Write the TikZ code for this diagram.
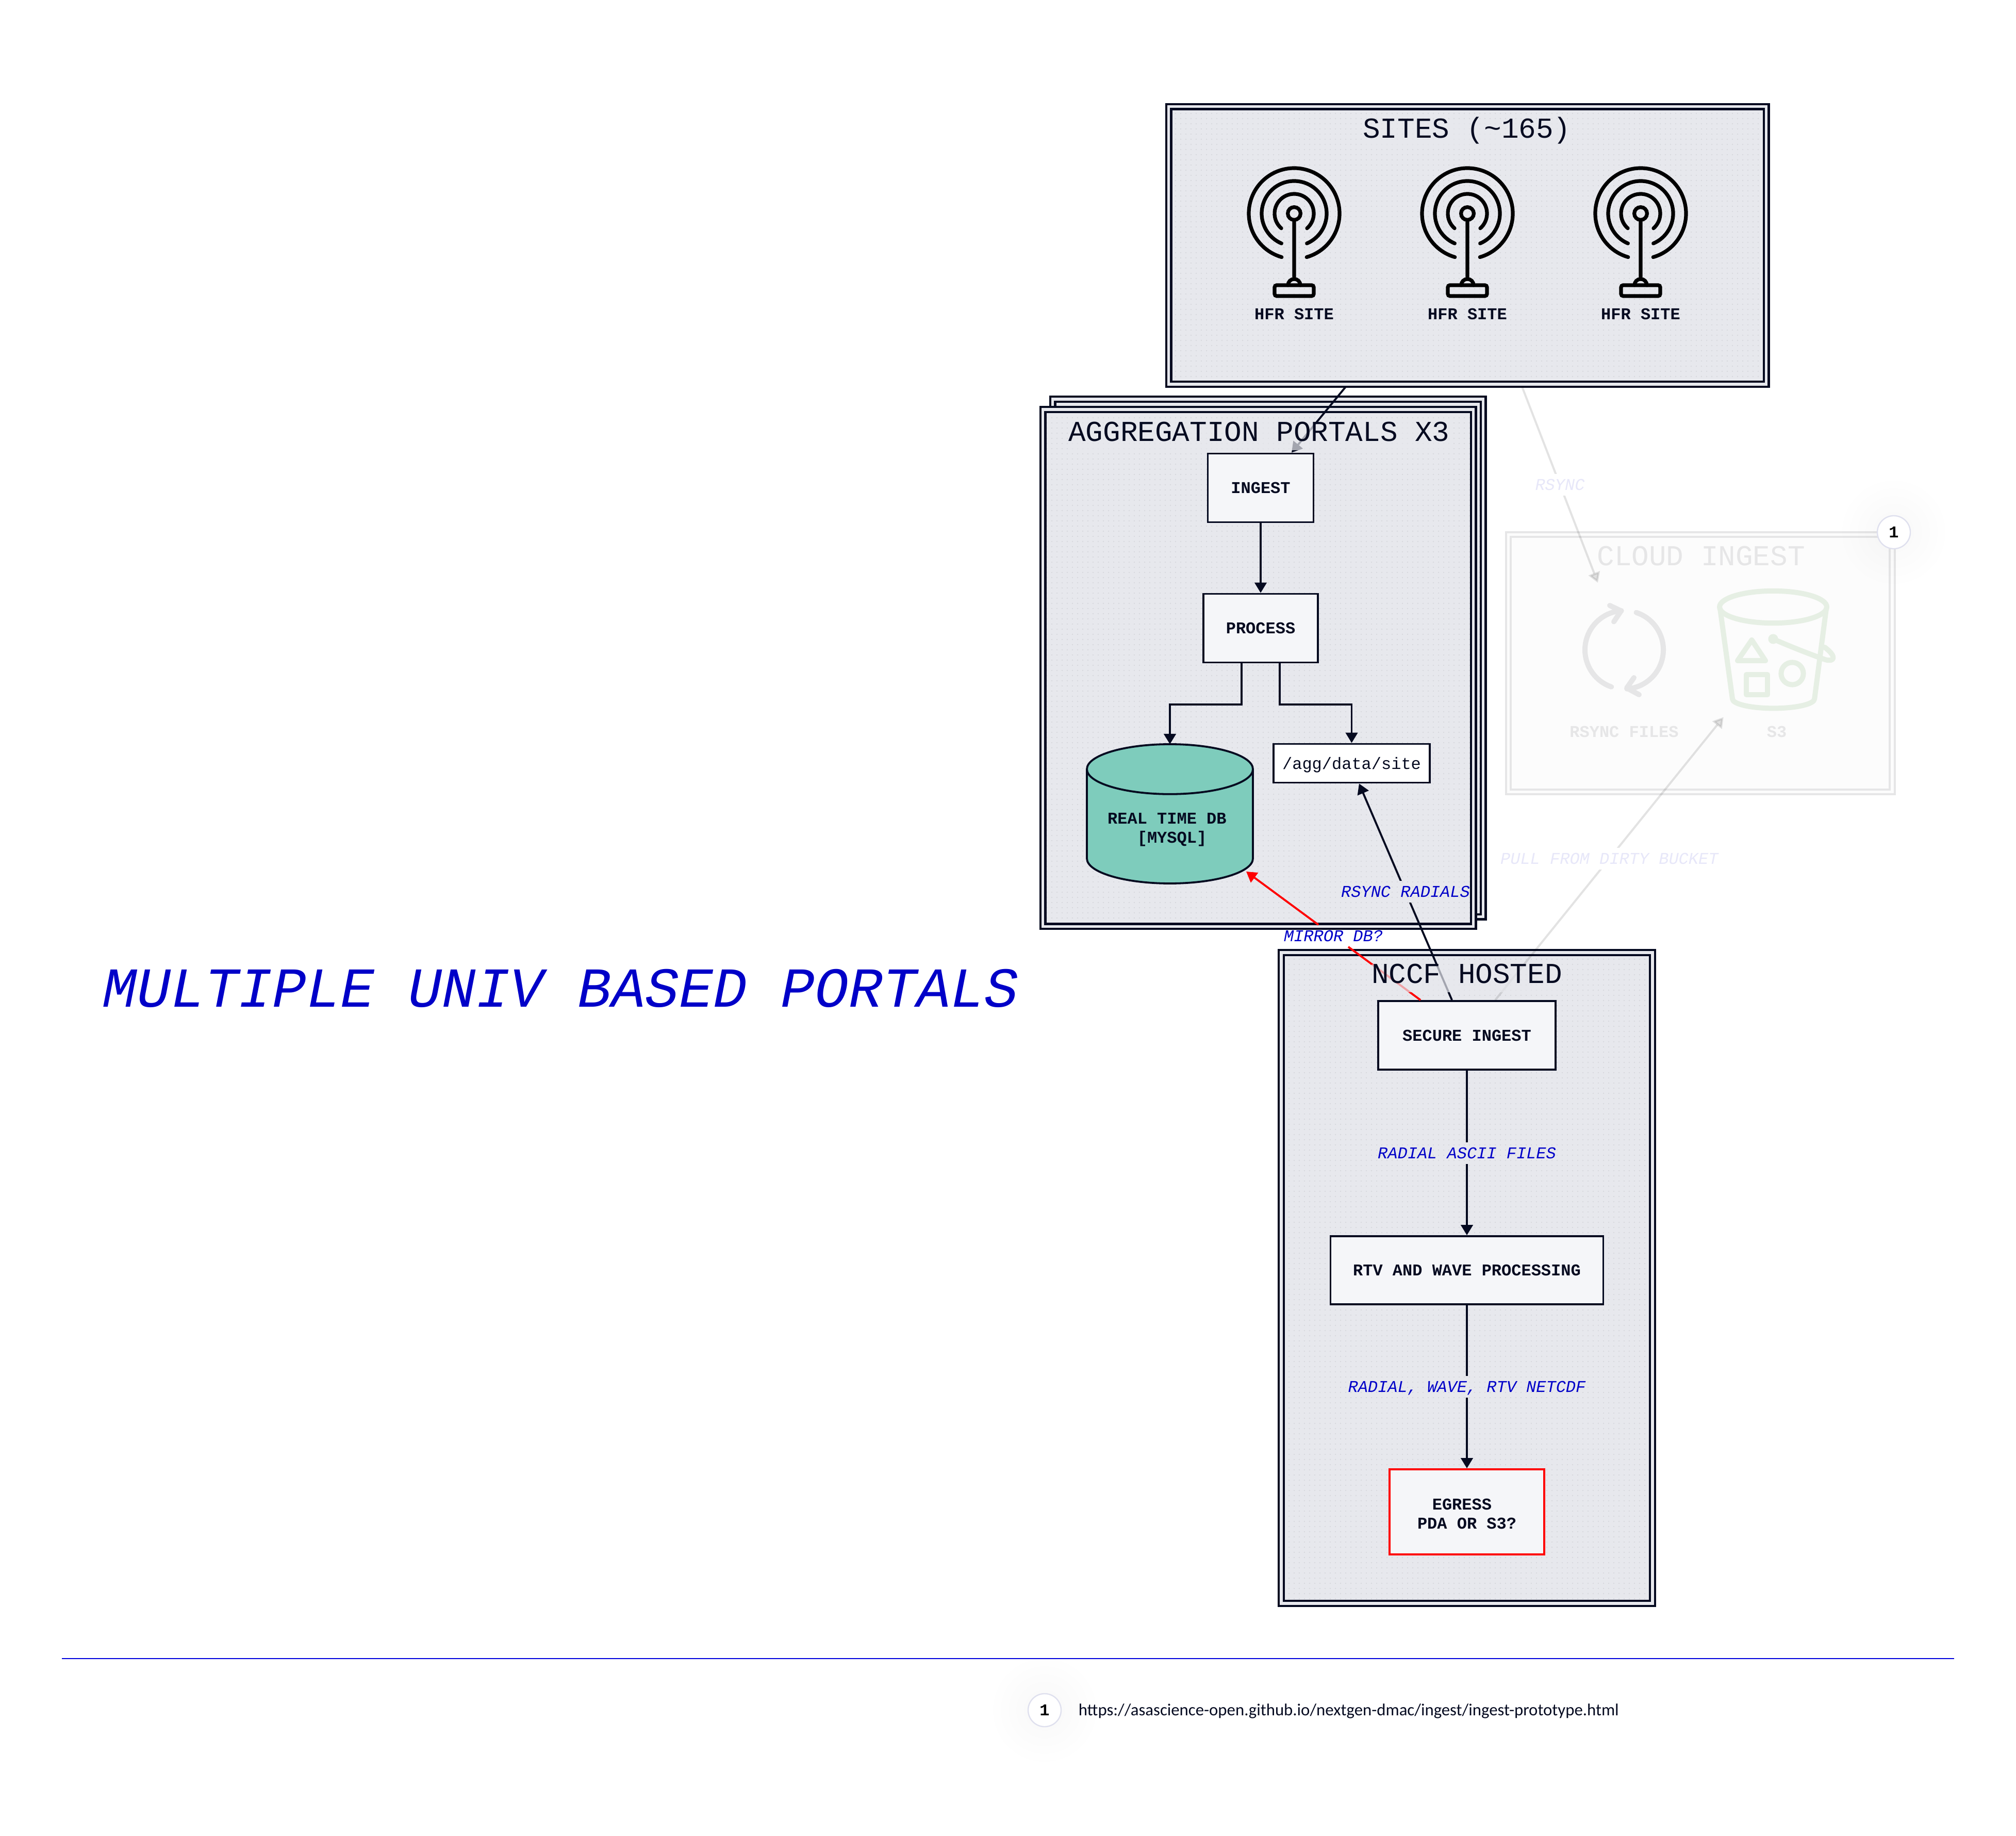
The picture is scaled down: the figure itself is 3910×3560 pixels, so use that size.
\documentclass[tikz,border=0pt]{standalone}
\usepackage{fontspec}
\setmonofont{Liberation Mono}
\setsansfont{Carlito}
\usetikzlibrary{patterns.meta, arrows.meta, calc}

\definecolor{inkdark}{HTML}{050A20}
\definecolor{groundgrey}{HTML}{E7E8ED}
\definecolor{dotgrey}{HTML}{D3D4D9}
\definecolor{boxfill}{HTML}{F5F6F9}
\definecolor{dbgreen}{HTML}{7ECCBC}
\definecolor{labelblue}{HTML}{0000C8}
\definecolor{rulerblue}{HTML}{0000DD}
\definecolor{fadeline}{HTML}{E6E6E7}
\definecolor{fadefill}{HTML}{FCFCFC}
\definecolor{fadegreen}{HTML}{E6EFE4}
\definecolor{fadeblue}{HTML}{E7E7F9}
\definecolor{badgeline}{HTML}{DFE0EE}

\tikzset{
    groundfill/.style={preaction={fill=groundgrey}, preaction={pattern={Dots[distance=2.5pt, radius=.28pt]}, pattern color=dotgrey}},
    groupbox/.style={draw=inkdark, line width=1.1pt, double=groundgrey, double distance=1.3pt, groundfill, outer sep=0pt, inner sep=0pt},
    grouptitle/.style={font=\ttfamily\fontsize{14}{16}\selectfont, text=inkdark, text height=9.2pt, text depth=4.4pt, fill=groundgrey, fill opacity=.7, text opacity=1, inner sep=0pt, anchor=base},
    stepbox/.style={draw=inkdark, line width=.95pt, fill=boxfill, font=\ttfamily\bfseries\fontsize{8}{9.25}\selectfont, text=inkdark, align=center},
    sitelabel/.style={font=\ttfamily\bfseries\fontsize{8}{9.25}\selectfont, text=inkdark, inner sep=0pt, align=center},
    flowlabel/.style={font=\ttfamily\itshape\fontsize{8}{9.25}\selectfont, text=labelblue, inner sep=0pt, minimum height=10.5pt, text height=5.3pt, text depth=0pt},
    flow/.style={draw=inkdark, line width=.95pt, -{Triangle[length=5pt, width=5.8pt]}},
    fadeflow/.style={draw=black, line width=1pt, opacity=.11, -{Triangle[length=5pt, width=5.8pt]}},
    badge/.style={circle, draw=badgeline, line width=.6pt, fill=white, minimum size=16pt, inner sep=0pt, font=\ttfamily\bfseries\fontsize{8}{9.25}\selectfont, text=black},
    hfrsite/.pic={
        \draw[black, line width=1.8pt, line cap=round]
            (0,0) circle[radius=3.1pt]
            (0,-3.1pt) -- (0,-30.75pt)
            (-74:22pt) arc[start angle=-74, end angle=254, radius=22pt]
            (-67:15.75pt) arc[start angle=-67, end angle=247, radius=15.75pt]
            (-49:9.5pt) arc[start angle=-49, end angle=229, radius=9.5pt]
            (-3pt,-34.75pt) arc[start angle=180, end angle=0, radius=3pt];
        \draw[black, line width=1.8pt, rounded corners=1pt] (-9.5pt,-34.75pt) rectangle (9.5pt,-40pt);
    }
}

\begin{document}
\begin{tikzpicture}[x=.25pt, y=-.25pt]
    \useasboundingbox (0,0) rectangle (3910,3560);
    \fill[white] (0,0) rectangle (3910,3560);

    % Faded cloud group
    \node[draw=fadeline, line width=1pt, double=fadefill, double distance=1.4pt, fill=fadefill, outer sep=0pt, minimum width=186.1pt, minimum height=124.75pt] (cloud) at (3297.75,1286) {};

    % Rsync icon
    \begin{scope}[shift={(3150,1260)}, fadeline, line width=2.5pt, line cap=round, line join=round]
        \draw (251:19pt) arc[start angle=251, end angle=94, radius=19pt];
        \draw (72:19pt) arc[start angle=72, end angle=-86, radius=19pt];
        \draw (-28,-86) -- (-6,-75.5) -- (-20,-54.5);
        \draw (19,54) -- (5,74) -- (29,87);
    \end{scope}
    \node[sitelabel, text=fadeline] (rsyncfiles) at (3150,1419) {RSYNC FILES};

    % S3 bucket icon
    \begin{scope}[fadegreen, line width=2.5pt, line cap=round, line join=round]
        \draw (3439,1177) ellipse[x radius=26pt, y radius=7.8pt];
        \draw (3336,1180) -- (3360,1355) arc[start angle=180, end angle=360, x radius=19.9pt, y radius=4.6pt] -- (3542,1180);
        \draw (3397.5,1241) -- (3370,1281) -- (3424,1281) -- cycle;
        \draw (3387,1308) rectangle (3428,1347);
        \draw (3476,1306) circle[radius=5.4pt];
        \fill (3439,1239) circle[radius=2.4pt];
        \draw (3439,1239) .. controls (3480,1257) and (3520,1272) .. (3540,1279) .. controls (3556,1284) and (3565,1275) .. (3539,1255);
    \end{scope}
    \node[sitelabel, text=fadeline] (s3) at (3446,1419) {S3};
    \node[grouptitle, text=fadeline, fill=none] (cloudtitle) at (3299,1096.5) {CLOUD INGEST};

    % Main groups
    \node[groupbox, minimum width=289.75pt, minimum height=134.6pt] (sites) at (2846,475.75) {};
    \node[groupbox, minimum width=208.75pt, minimum height=250.9pt] (portalback) at (2459,1275.75) {};
    \node[groupbox, minimum width=208.75pt, minimum height=250.6pt] (portal) at (2440,1295.25) {};
    \node[groupbox, minimum width=180pt, minimum height=315.5pt] (nccf) at (2845,2478) {};

    % Antennas
    \foreach \sitex [count=\n] in {2510,2846,3182} {
        \pic at (\sitex,414) {hfrsite};
        \node[sitelabel] (hfr\n) at (\sitex,609) {HFR SITE};
    }

    % Steps
    \node[stepbox, minimum width=51.25pt, minimum height=33.25pt] (ingest) at (2445,946) {INGEST};
    \node[stepbox, minimum width=55.5pt, minimum height=33.25pt] (process) at (2445,1218) {PROCESS};
    \node[stepbox, fill=white, font=\ttfamily\fontsize{8}{9.25}\selectfont, text height=5.6pt, text depth=0pt, minimum width=75.75pt, minimum height=18.75pt] (aggdir) at (2621.5,1480) {/agg/data/site};
    \node[minimum width=80.5pt, minimum height=67.5pt, inner sep=0pt, outer sep=0pt] (realdb) at (2269,1578) {};
    \draw[draw=inkdark, fill=dbgreen, line width=.95pt] ([yshift=-12.1pt]realdb.north west) -- ([yshift=12.1pt]realdb.south west)
        arc[start angle=180, end angle=360, x radius=40.25pt, y radius=12.1pt] -- ([yshift=-12.1pt]realdb.north east)
        arc[start angle=0, end angle=180, x radius=40.25pt, y radius=12.1pt] -- cycle;
    \draw[draw=inkdark, line width=.95pt] ([yshift=-12.1pt]realdb.north west) arc[start angle=180, end angle=360, x radius=40.25pt, y radius=12.1pt];
    \node[sitelabel] (realdblabel) at (2273,1609) {REAL TIME DB\phantom{X}\\{[MYSQL]}};
    \node[stepbox, minimum width=86pt, minimum height=33.25pt] (secure) at (2845,2007.5) {SECURE INGEST};
    \node[stepbox, minimum width=132.25pt, minimum height=33pt] (rtv) at (2845,2463) {RTV AND WAVE PROCESSING};
    \node[stepbox, draw=red, minimum width=75pt, minimum height=41.25pt] (egress) at (2845,2931.5) {\rule{0pt}{7.1pt}EGRESS\phantom{X}\\PDA OR S3?};

    % Faded connectors
    \coordinate (rsyncport) at (3099,1130);
    \coordinate (s3port) at (3342.7,1390.5);
    \draw[fadeflow] ([shift={(26.5pt,-1.25pt)}]sites.south) -- (rsyncport);
    \node[flowlabel, text=fadeblue, fill=white] (rsynclabel) at ($([shift={(26.5pt,-1.25pt)}]sites.south)!.5!(rsyncport)$) {RSYNC};
    \draw[fadeflow] ([xshift=13.75pt]secure.north) -- (s3port);
    \node[flowlabel, text=fadeblue, fill=white] (pulllabel) at ($([xshift=13.75pt]secure.north)!.5!(s3port)$) {PULL FROM DIRTY BUCKET};

    % Connectors
    \draw[flow] ([shift={(-59pt,-1.25pt)}]sites.south) -- ([xshift=15pt]ingest.north);
    \draw[flow] (ingest.south) -- (process.north);
    \draw[flow] ([xshift=-9.25pt]process.south) -- ++(0,80) -| (realdb.north);
    \draw[flow] ([xshift=9.25pt]process.south) -- ++(0,80) -| (aggdir.north);
    \draw[flow] ([xshift=-7.25pt]secure.north) -- node[flowlabel, groundfill] (rsyncradials) {RSYNC RADIALS} ([xshift=3.6pt]aggdir.south);
    \draw[flow] (secure.south) -- node[flowlabel, groundfill] (asciilabel) {RADIAL ASCII FILES} (rtv.north);
    \draw[flow] (rtv.south) -- node[flowlabel, groundfill] (netcdflabel) {RADIAL, WAVE, RTV NETCDF} (egress.north);

    % Mirror, broken where its label sits
    \coordinate (mirrorstart) at ([xshift=-22.5pt]secure.north);
    \coordinate (mirrortip) at (2417,1690);
    \coordinate (mirrorgapa) at ($(mirrorstart)!.4143!(mirrortip)$);
    \coordinate (mirrorgapb) at ($(mirrorstart)!.5857!(mirrortip)$);
    \draw[red, line width=.95pt] (mirrorstart) -- (mirrorgapa);
    \draw[flow, draw=red] (mirrorgapb) -- (mirrortip);
    \node[flowlabel] (mirrorlabel) at ($(mirrorstart)!.5!(mirrortip)$) {MIRROR DB?};

    % Group titles go over the connectors
    \node[grouptitle] (sitestitle) at (2845,267.5) {SITES (\textasciitilde 165)};
    \node[grouptitle] (portaltitle) at (2442,855.5) {AGGREGATION PORTALS X3};
    \node[grouptitle] (nccftitle) at (2845,1906.5) {NCCF HOSTED};

    % Badge shadows and badges
    \foreach \r in {40,55,70,85,100} {
        \fill[blue!40!black, opacity=.004] (3673,1032) circle[radius=\r*.25pt];
        \fill[blue!40!black, opacity=.004] (2026,3316) circle[radius=\r*.25pt];
    }
    \node[badge] (cloudbadge) at (3673,1032) {1};
    \node[badge] (notebadge) at (2026,3316) {1};

    % Page title and footnote
    \node[anchor=west, inner sep=0pt, font=\ttfamily\itshape\fontsize{27.4}{30}\selectfont, text=labelblue] (pagetitle) at (199,1916) {MULTIPLE UNIV BASED PORTALS};
    \draw[rulerblue, line width=.5pt] (120,3216) -- (3790,3216);
    \node[anchor=west, inner sep=0pt, font=\sffamily\fontsize{8.2}{11}\selectfont, text=inkdark] (noteurl) at (2091,3318) {https://asascience-open.github.io/nextgen-dmac/ingest/ingest-prototype.html};
\end{tikzpicture}
\end{document}
